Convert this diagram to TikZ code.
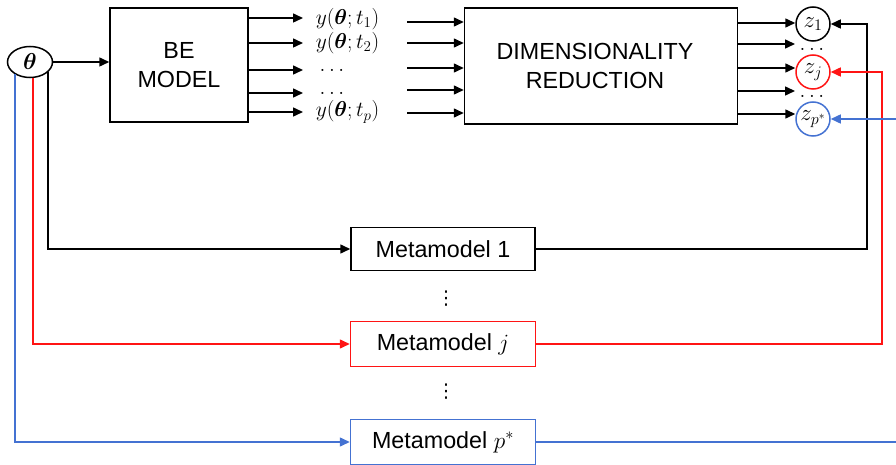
\RequirePackage{fix-cm}
\documentclass[tikz,border=0pt]{standalone}
\usepackage{amsmath,bm}
\usepackage{fontspec}
\setmainfont{Liberation Sans}
\newfontfamily\symfont{DejaVu Sans}
\usetikzlibrary{arrows.meta,shapes.geometric}

\definecolor{mred}{RGB}{255,20,20}
\definecolor{mblue}{RGB}{68,114,210}

\begin{document}
\begin{tikzpicture}[x=1pt,y=-1pt,
  line width=1.5pt,
  >={Triangle[length=10pt,width=9pt]},
  every node/.style={inner sep=0pt},
  box/.style={draw, rectangle, align=center,
    font=\fontsize{23.3}{29}\selectfont},
  mathlbl/.style={font=\fontsize{21.5}{24}\selectfont},
  zcirc/.style={draw, circle, minimum size=34pt,
    font=\fontsize{23}{25}\selectfont},
  vdotlbl/.style={font=\symfont\fontsize{19}{22}\selectfont}]
\useasboundingbox (0,0) rectangle (896,465);

% input parameter
\node[draw, ellipse, minimum width=45pt, minimum height=31pt,
  font=\fontsize{23}{26}\selectfont] (th) at (30,62) {$\bm{\theta}$};

% main blocks
\node[box, minimum width=138pt, minimum height=114pt] (be) at (179,65) {BE\\MODEL};
\node[draw, rectangle, minimum width=273pt, minimum height=116pt] (dr) at (601,66) {};
\node[box, draw=none] (drt) at (595,66) {DIMENSIONALITY\\REDUCTION};

% simulator outputs
\node[mathlbl, anchor=west] (y1) at (315,19) {$y(\bm{\theta};t_1)$};
\node[mathlbl, anchor=west] (y2) at (315,43) {$y(\bm{\theta};t_2)$};
\node[mathlbl] (d1) at (332,70) {$\ldots$};
\node[mathlbl] (d2) at (332,93) {$\ldots$};
\node[mathlbl, anchor=west] (yp) at (315,112) {$y(\bm{\theta};t_p)$};

\coordinate (a1) at (303,18);
\coordinate (a2) at (303,43);
\coordinate (a3) at (303,70);
\coordinate (a4) at (303,93);
\coordinate (a5) at (303,112);
\foreach \c in {a1,a2,a3,a4,a5}
  \draw[->] (be.east |- \c) -- (\c);

\coordinate (b1) at (407,22);
\coordinate (b2) at (407,43);
\coordinate (b3) at (407,68);
\coordinate (b4) at (407,90);
\coordinate (b5) at (407,113);
\foreach \c in {b1,b2,b3,b4,b5}
  \draw[->] (\c) -- (dr.west |- \c);

% reduced coordinates
\node[zcirc] (z1) at (813,24) {$z_1$};
\node[zcirc, draw=mred] (zj) at (813,72) {$z_j$};
\node[zcirc, draw=mblue] (zp) at (813,119) {$z_{p^*}$};
\node[mathlbl] (zd1) at (812,49) {$\ldots$};
\node[mathlbl] (zd2) at (812,96) {$\ldots$};

\coordinate (c2) at (795,44);
\coordinate (c4) at (795,91);
\draw[->] (dr.east |- 0,23) -- (z1.west |- 0,23);
\draw[->] (dr.east |- c2) -- (c2);
\draw[->] (dr.east |- 0,68) -- (zj.west |- 0,68);
\draw[->] (dr.east |- c4) -- (c4);
\draw[->] (dr.east |- 0,114) -- (zp.west |- 0,114);

% metamodels
\node[box, minimum width=184pt, minimum height=43pt] (m1) at (443,249) {Metamodel 1};
\node[box, draw=mred, minimum width=185pt, minimum height=45pt] (mj) at (443,344) {Metamodel $j$};
\node[box, draw=mblue, minimum width=185pt, minimum height=45pt] (mp) at (443,442) {Metamodel $p^*$};
\node[vdotlbl] (v1) at (446,299) {⋮};
\node[vdotlbl] (v2) at (446,392) {⋮};

% parameter feeds
\draw[->] (th.east) -- (be.west |- th.east);
\draw[->] (th.-30) |- (m1.west);
\draw[->, mred] (th.-79) |- (mj.west);
\draw[->, mblue] (th.-140) |- (mp.west);

% metamodel predictions back to the reduced coordinates
\coordinate (r1) at (867,249);
\coordinate (rj) at (882,344);
\coordinate (rp) at (898,443);
\coordinate (rq) at (898,119);
\draw[->] (m1.east) -- (m1.east -| r1) |- (z1.east);
\draw[->, mred] (mj.east) -- (mj.east -| rj) |- (zj.east);
\draw[mblue] (mp.east) -- (mp.east -| rp);
\draw[->, mblue] (rq) -- (zp.east);
\end{tikzpicture}
\end{document}
